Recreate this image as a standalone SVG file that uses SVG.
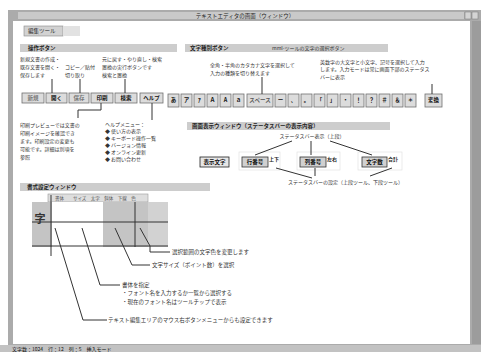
<svg xmlns="http://www.w3.org/2000/svg" width="481" height="352" viewBox="0 0 481 352">
<style>
text{font-family:"Noto Sans CJK JP","Noto Sans",sans-serif;fill:#333;font-size:5px}
.h{font-size:5.5px;fill:#222;font-weight:bold}
.bar{fill:#cdcdcd}
.btn{fill:#dcdcdc;stroke:#707070;stroke-width:0.8}
.bl{font-size:5.5px;fill:#111;font-weight:bold;text-anchor:middle}
.ln{stroke:#333;stroke-width:1;fill:none}
.c{font-size:5.5px;fill:#333}
</style>
<rect width="481" height="352" fill="#fff"/>
<g id="window">
<rect x="8" y="10" width="473" height="342" fill="#ababab"/>
<rect x="18" y="12" width="446" height="7" fill="#c9c9c9"/>
<rect x="465" y="12" width="6" height="7" fill="#d4d4d4" stroke="#777" stroke-width="0.5"/>
<rect x="472" y="12" width="6" height="7" fill="#d4d4d4" stroke="#777" stroke-width="0.5"/>
<text x="245" y="17.5" text-anchor="middle" style="font-size:5.5px;fill:#222">テキストエディタの画面（ウィンドウ）</text>
<rect x="13" y="21" width="457" height="323" fill="#fff"/>
<rect x="472" y="21" width="9" height="323" fill="#9c9c9c"/>
<rect x="0" y="345" width="481" height="7" fill="#c2c2c2"/>
<text x="12" y="350.5" style="font-size:5px;fill:#111">文字数：1024　行：12　列：5　挿入モード</text>
</g>
<g id="tab">
<rect x="24" y="26" width="39" height="10" fill="#d2d2d2" stroke="#888" stroke-width="0.6"/>
<rect x="63" y="26" width="17" height="10" fill="#e2e2e2"/>
<text x="28" y="33" style="font-size:5.5px;fill:#222">編集ツール</text>
</g>
<g id="sec1">
<rect class="bar" x="20" y="44" width="157" height="8"/>
<text class="h" x="28" y="50">操作ボタン</text>
<text x="20" y="61">新規文書の作成・</text>
<text x="20" y="69">既存文書を開く・</text>
<text x="20" y="77">保存します</text>
<text x="65" y="69">コピー／貼付</text>
<text x="65" y="77">切り取り</text>
<text x="102" y="61">元に戻す・やり直し・検索</text>
<text x="102" y="69">置換の実行ボタンです</text>
<text x="102" y="77">検索と置換</text>
<rect class="btn" x="22" y="93" width="22" height="10"/>
<rect class="btn" x="46" y="93" width="21" height="10"/>
<rect class="btn" x="69" y="93" width="20" height="10"/>
<rect class="btn" x="91" y="93" width="22" height="10"/>
<rect class="btn" x="115" y="93" width="22" height="10"/>
<rect class="btn" x="140" y="93" width="23" height="10"/>
<text class="bl" x="33" y="100" style="fill:#777">新規</text>
<text class="bl" x="56.5" y="100">開く</text>
<text class="bl" x="79" y="100" style="fill:#777">保存</text>
<text class="bl" x="102" y="100">印刷</text>
<text class="bl" x="126" y="100">検索</text>
<text class="bl" x="151.5" y="100">ヘルプ</text>
<text x="20" y="127">印刷プレビューでは文書の</text>
<text x="20" y="135">印刷イメージを確認でき</text>
<text x="20" y="143">ます。印刷設定の変更も</text>
<text x="20" y="151">可能です。詳細は別項を</text>
<text x="20" y="159">参照</text>
<text x="105" y="126">ヘルプメニュー：</text>
<text x="105" y="133">◆ 使い方の表示</text>
<text x="105" y="140">◆ キーボード操作一覧</text>
<text x="105" y="147">◆ バージョン情報</text>
<text x="105" y="154">◆ オンライン更新</text>
<text x="105" y="161">◆ お問い合わせ</text>
</g>
<g id="sec2">
<rect class="bar" x="185" y="44" width="203" height="8"/>
<text class="h" x="190" y="50">文字種別ボタン</text>
<text x="272" y="50" style="font-size:5px;fill:#333">mml-ツールの文字の選択ボタン</text>
<text x="210" y="67">全角・半角のカタカナ文字を選択して</text>
<text x="210" y="75">入力の種類を切り替えます</text>
<text x="320" y="64">英数字の大文字と小文字、記号を選択して入力</text>
<text x="320" y="71">します。入力モードは常に画面下部のステータス</text>
<text x="320" y="79">バーに表示</text>
<g id="charbuttons">
<rect class="btn" x="168" y="94" width="11" height="13"/><text class="bl" x="173.5" y="102">あ</text>
<rect class="btn" x="181" y="94" width="11" height="13"/><text class="bl" x="186.5" y="102">ア</text>
<rect class="btn" x="194" y="94" width="11" height="13"/><text class="bl" x="199.5" y="102">ｱ</text>
<rect class="btn" x="207" y="94" width="11" height="13"/><text class="bl" x="212.5" y="102">Ａ</text>
<rect class="btn" x="220" y="94" width="11" height="13"/><text class="bl" x="225.5" y="102">A</text>
<rect class="btn" x="233" y="94" width="11" height="13"/><text class="bl" x="238.5" y="102">ａ</text>
<rect class="btn" x="247" y="94" width="26" height="13"/><text class="bl" x="260" y="102" style="fill:#555">スペース</text>
<rect class="btn" x="275" y="94" width="11" height="13"/><text class="bl" x="280.5" y="102">ー</text>
<rect class="btn" x="288" y="94" width="11" height="13"/><text class="bl" x="293.5" y="102">、</text>
<rect class="btn" x="301" y="94" width="11" height="13"/><text class="bl" x="306.5" y="102">。</text>
<rect class="btn" x="314" y="94" width="11" height="13"/><text class="bl" x="319.5" y="102">「</text>
<rect class="btn" x="327" y="94" width="11" height="13"/><text class="bl" x="332.5" y="102">」</text>
<rect class="btn" x="340" y="94" width="11" height="13"/><text class="bl" x="345.5" y="102">・</text>
<rect class="btn" x="353" y="94" width="11" height="13"/><text class="bl" x="358.5" y="102">！</text>
<rect class="btn" x="366" y="94" width="11" height="13"/><text class="bl" x="371.5" y="102">？</text>
<rect class="btn" x="379" y="94" width="11" height="13"/><text class="bl" x="384.5" y="102">＃</text>
<rect class="btn" x="392" y="94" width="11" height="13"/><text class="bl" x="397.5" y="102">＆</text>
<rect class="btn" x="405" y="94" width="11" height="13"/><text class="bl" x="410.5" y="102">＊</text>
<rect class="btn" x="425" y="94" width="17" height="13"/><text class="bl" x="433.5" y="102">変換</text>
</g>
</g>
<g id="sec3">
<rect class="bar" x="187" y="122" width="203" height="8"/>
<text class="h" x="192" y="128">画面表示ウィンドウ（ステータスバーの表示内容）</text>
<text x="312" y="138" text-anchor="middle">ステータスバー表示（上段）</text>
<rect x="239" y="152" width="41" height="18" fill="none" stroke="#ddd" stroke-width="0.6"/>
<rect x="297" y="152" width="43" height="18" fill="none" stroke="#ddd" stroke-width="0.6"/>
<rect x="358" y="152" width="44" height="18" fill="none" stroke="#ddd" stroke-width="0.6"/>
<rect x="200" y="157" width="29" height="10" fill="#e6e6e6" stroke="#222" stroke-width="0.8"/>
<text class="bl" x="214.5" y="164">表示文字</text>
<rect x="242" y="157" width="26" height="10" fill="#d0d0d0" stroke="#333" stroke-width="0.8"/>
<text class="bl" x="255" y="164">行番号</text>
<text x="269" y="161" style="font-weight:bold;fill:#222">上下</text>
<rect x="300" y="157" width="26" height="10" fill="#d0d0d0" stroke="#333" stroke-width="0.8"/>
<text class="bl" x="313" y="164">列番号</text>
<text x="327" y="161" style="font-weight:bold;fill:#222">左右</text>
<rect x="362" y="157" width="25" height="10" fill="#d0d0d0" stroke="#333" stroke-width="0.8"/>
<text class="bl" x="374.5" y="164">文字数</text>
<text x="388" y="161" style="font-weight:bold;fill:#222">合計</text>
<text x="288" y="184">ステータスバーの設定（上段ツール、下段ツール）</text>
</g>
<g id="sec4">
<rect class="bar" x="20" y="183" width="190" height="8"/>
<text class="h" x="27" y="189">書式設定ウィンドウ</text>
<rect x="48" y="194" width="100" height="8" fill="#dedede" stroke="#999" stroke-width="0.6"/>
<text x="55" y="200" style="font-size:4.5px;fill:#555">書体　　サイズ　太字　斜体　下線　色</text>
<rect x="32" y="202" width="136" height="45" fill="#c4c4c4"/>
<rect x="52" y="202" width="51" height="45" fill="#fff"/>
<rect x="148" y="202" width="20" height="45" fill="#d2d2d2"/>
<text x="40" y="223" text-anchor="middle" style="font-size:11px;fill:#333;font-weight:bold">字</text>
<line class="ln" x1="32" y1="222" x2="168" y2="222" stroke-width="0.8"/>
<line class="ln" x1="135" y1="202" x2="135" y2="247" stroke-width="0.8"/>
<line class="ln" x1="32" y1="246" x2="168" y2="246" stroke-width="0.8"/>
</g>
<g id="connectors">
<path class="ln" d="M52,79V93M80,79V93M125,79V93"/>
<path class="ln" d="M101,103V110H78V118M152,103V120"/>
<path class="ln" d="M262,77V94M432,84V94"/>
<path class="ln" d="M292,141L255,155M311,141V155M330,141L372,155"/>
<path class="ln" d="M276,168L312,178M315,168V176M392,168L370,176"/>
<path class="ln" d="M51,195V256"/>
<path class="ln" d="M140,228L150,246V252H170"/>
<path class="ln" d="M115,228L132,265H150"/>
<path class="ln" d="M82,228L100,285H120"/>
<path class="ln" d="M55,228L83,320H107"/>
</g>
<g id="callouts">
<text class="c" x="172" y="254">選択範囲の文字色を変更します</text>
<text class="c" x="152" y="267">文字サイズ（ポイント数）を選択</text>
<text class="c" x="122" y="287">書体を指定</text>
<text class="c" x="122" y="295">・フォント名を入力するか一覧から選択する</text>
<text class="c" x="122" y="304">・現在のフォント名はツールチップで表示</text>
<text class="c" x="108" y="322">テキスト編集エリアのマウス右ボタンメニューからも設定できます</text>
</g>
</svg>
